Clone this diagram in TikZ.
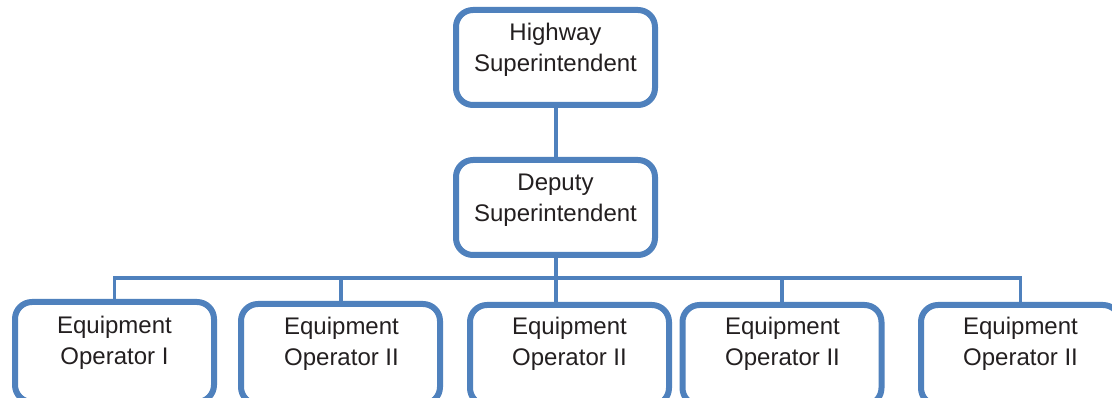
\documentclass[tikz,border=0pt]{standalone}
\usepackage{fontspec}
\setmainfont{Liberation Sans}
\definecolor{orgblue}{HTML}{4F81BD}
\definecolor{orgtext}{HTML}{231F20}
\begin{document}
\begin{tikzpicture}[x=1pt,y=-1pt,
  orgbox/.style={draw=orgblue, line width=6pt, rounded corners=17pt, fill=white,
    minimum width=199pt, minimum height=95pt, inner sep=0pt},
  lowbox/.style={orgbox, minimum height=100pt},
  orglabel/.style={align=center, text=orgtext, inner sep=0pt,
    font=\fontsize{24}{31}\selectfont},
  conn/.style={draw=orgblue, line width=4pt},
  busline/.style={draw=orgblue, line width=3.5pt, line join=miter}]
  \useasboundingbox (0,0) rectangle (1112,398);
  \fill[white] (0,0) rectangle (1112,398);
  \clip (0,0) rectangle (1112,398);

  % upper levels
  \node[orgbox] (hs) at (555.5,57.5) {};
  \node[orgbox] (ds) at (555.5,207.5) {};
  \node[orglabel] (hst) at (555.5,50) {Highway\\Superintendent};
  \node[orglabel] (dst) at (555.5,200) {Deputy\\Superintendent};

  % equipment operators (boxes run past the lower edge)
  \node[lowbox] (e1) at (114.5,352) {};
  \node[lowbox] (e2) at (340.5,354) {};
  \node[lowbox] (e3) at (569.5,355) {};
  \node[lowbox] (e4) at (782,355) {};
  \node[lowbox] (e5) at (1020.5,355) {};
  \node[orglabel] (e1t) at (114.5,343) {Equipment\\Operator I};
  \node[orglabel] (e2t) at (341.5,344) {Equipment\\Operator II};
  \node[orglabel] (e3t) at (569.5,344) {Equipment\\Operator II};
  \node[orglabel] (e4t) at (782.5,344) {Equipment\\Operator II};
  \node[orglabel] (e5t) at (1020.5,344) {Equipment\\Operator II};

  % connectors
  \coordinate (bus) at (555.5,278);
  \draw[conn] (hs.south) -- (ds.north);
  \draw[conn] (ds.south) -- (ds.south |- e3.north);
  \draw[busline] (e1.north) -- (e1.north |- bus) -- (e5.north |- bus) -- (e5.north);
  \foreach \b in {e2,e4}
    \draw[conn] (\b.north |- bus) -- (\b.north);
\end{tikzpicture}
\end{document}
